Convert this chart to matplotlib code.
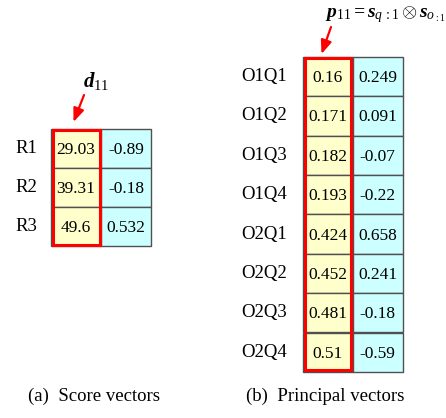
import matplotlib.pyplot as plt
from matplotlib.patches import Rectangle

plt.rcParams['font.family'] = ['Liberation Serif', 'DejaVu Serif']
plt.rcParams['mathtext.fontset'] = 'custom'
plt.rcParams['mathtext.rm'] = 'Liberation Serif'
plt.rcParams['mathtext.it'] = 'Liberation Serif:italic'
plt.rcParams['mathtext.bf'] = 'Liberation Serif:bold:italic'

# score vectors
score_rows = ['R1', 'R2', 'R3']
score_col1 = ['29.03', '39.31', '49.6']
score_col2 = ['-0.89', '-0.18', '0.532']

# principal vectors
pc_rows = ['O1Q1', 'O1Q2', 'O1Q3', 'O1Q4', 'O2Q1', 'O2Q2', 'O2Q3', 'O2Q4']
pc_col1 = ['0.16', '0.171', '0.182', '0.193', '0.424', '0.452', '0.481', '0.51']
pc_col2 = ['0.249', '0.091', '-0.07', '-0.22', '0.658', '0.241', '-0.18', '-0.59']

YELLOW = '#FFFFCC'
CYAN = '#CCFFFF'
GRID = '#505050'
RED = '#FF0000'
ARROW = dict(arrowstyle='-|>,head_length=0.45,head_width=0.18', color=RED,
             lw=1.6, mutation_scale=18, shrinkA=0, shrinkB=0)


def draw_table(ax, x0, y0, cw, rh, labels, col1, col2, label_x):
    n = len(labels)
    for i in range(n):
        y = y0 + i * rh
        for j, (vals, fc) in enumerate([(col1, YELLOW), (col2, CYAN)]):
            ax.add_patch(Rectangle((x0 + j * cw, y), cw, rh, facecolor=fc,
                                   edgecolor=GRID, linewidth=1.0))
            ax.text(x0 + j * cw + cw / 2, y + rh / 2 + 1.5, vals[i],
                    ha='center', va='center', fontsize=12.5)
        ax.text(label_x, y + rh / 2, labels[i], ha='center', va='center',
                fontsize=13.5)
    # highlight first column
    ax.add_patch(Rectangle((x0 + 2, y0 + 1.5), cw - 3.5, n * rh - 3,
                           facecolor='none', edgecolor=RED, linewidth=2.2))


fig = plt.figure(figsize=(4.46, 4.18), dpi=100)
ax = fig.add_axes([0, 0, 1, 1])
ax.set_xlim(0, 446)
ax.set_ylim(418, 0)
ax.axis('off')

draw_table(ax, 51, 128.5, 50, 39.2, score_rows, score_col1, score_col2, 26.5)
draw_table(ax, 302.5, 56.7, 50, 39.4, pc_rows, pc_col1, pc_col2, 264)

# annotations
ax.annotate('', xy=(73.5, 122), xytext=(84, 95), arrowprops=ARROW)
ax.text(96, 81, r'$\mathbf{d}_{11}$', ha='center', va='center', fontsize=15)

ax.annotate('', xy=(321.5, 54), xytext=(331, 27), arrowprops=ARROW)
ax.text(385, 15, r'$\mathbf{p}_{11}\mathbf{=}\mathbf{s}_{q\,:1}\otimes\mathbf{s}_{o_{:1}}$',
        ha='center', va='center', fontsize=14)

ax.text(94.5, 396, '(a)  Score vectors', ha='center', va='center', fontsize=13.5)
ax.text(325.5, 396, '(b)  Principal vectors', ha='center', va='center', fontsize=13.5)

fig.savefig('out.png', dpi=100)
